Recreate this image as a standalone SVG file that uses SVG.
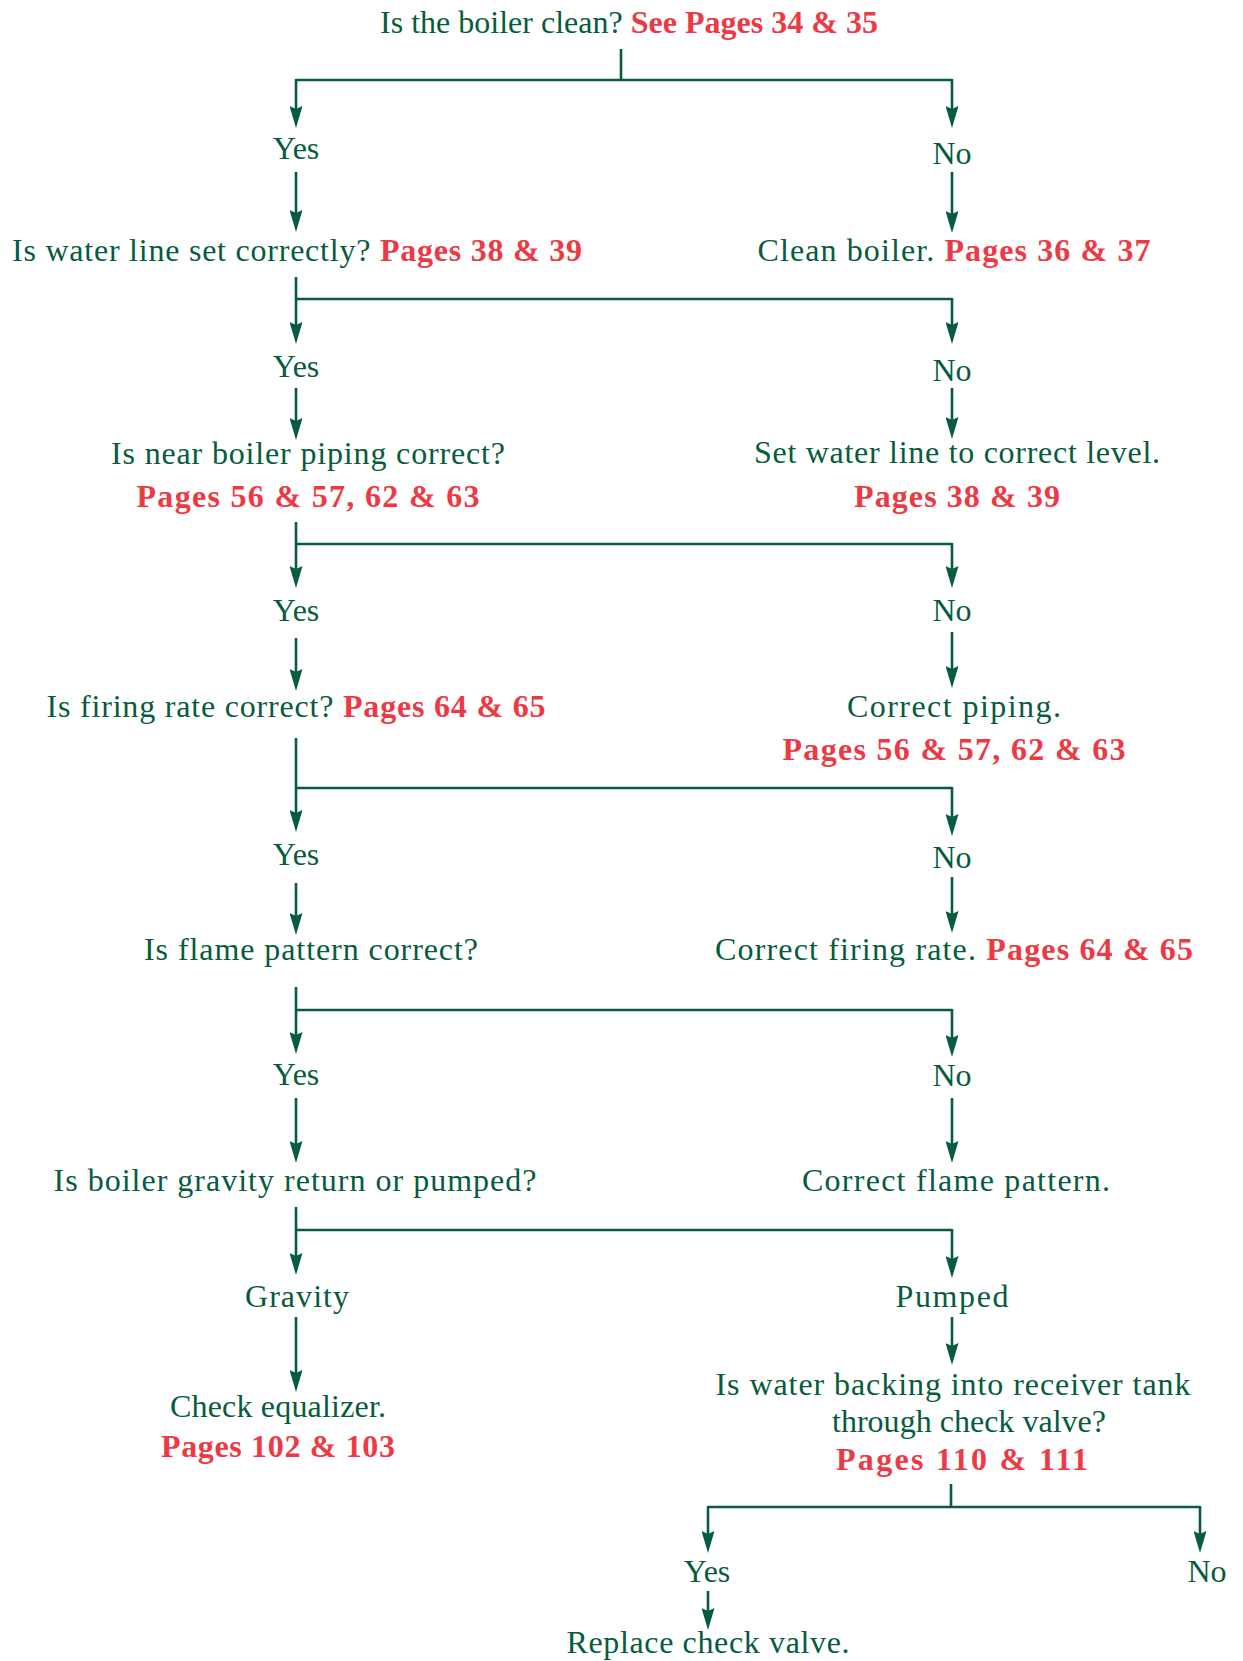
<svg xmlns="http://www.w3.org/2000/svg" width="1243" height="1661" viewBox="0 0 1243 1661">
<defs>
<style>
text{font-family:"Liberation Serif","Times New Roman",serif;font-size:32px;fill:#065c3c;text-anchor:middle}
.r{fill:#ec3a45;font-weight:bold}
.c line{stroke:#065c3c;stroke-width:2.6;fill:none}
.c line.a{marker-end:url(#ah)}
</style>
<marker id="ah" viewBox="0 0 22 13" refX="14" refY="6.5" markerWidth="22" markerHeight="13" markerUnits="userSpaceOnUse" orient="auto">
<path d="M0,0 L22,6.5 L0,13 L3,6.5 Z" fill="#065c3c"/>
</marker>
</defs>
<rect width="1243" height="1661" fill="#fff"/>
<g id="connectors" class="c">
<line x1="621" y1="49" x2="621" y2="80"/>
<line x1="296" y1="80" x2="952" y2="80"/>
<line class="a" x1="296" y1="79" x2="296" y2="120"/>
<line class="a" x1="952" y1="79" x2="952" y2="120"/>
<line class="a" x1="296" y1="172" x2="296" y2="224"/>
<line class="a" x1="952" y1="172" x2="952" y2="225"/>
<line class="a" x1="296" y1="277" x2="296" y2="336"/>
<line x1="296" y1="299" x2="952" y2="299"/>
<line class="a" x1="952" y1="298" x2="952" y2="336"/>
<line class="a" x1="296" y1="388" x2="296" y2="432"/>
<line class="a" x1="952" y1="388" x2="952" y2="431"/>
<line class="a" x1="296" y1="522" x2="296" y2="580"/>
<line x1="296" y1="544" x2="952" y2="544"/>
<line class="a" x1="952" y1="543" x2="952" y2="580"/>
<line class="a" x1="296" y1="638" x2="296" y2="683"/>
<line class="a" x1="952" y1="632" x2="952" y2="680"/>
<line class="a" x1="296" y1="738" x2="296" y2="824"/>
<line x1="296" y1="788" x2="952" y2="788"/>
<line class="a" x1="952" y1="787" x2="952" y2="828"/>
<line class="a" x1="296" y1="883" x2="296" y2="927"/>
<line class="a" x1="952" y1="877" x2="952" y2="925"/>
<line class="a" x1="296" y1="987" x2="296" y2="1046"/>
<line x1="296" y1="1010" x2="952" y2="1010"/>
<line class="a" x1="952" y1="1009" x2="952" y2="1049"/>
<line class="a" x1="296" y1="1098" x2="296" y2="1155"/>
<line class="a" x1="952" y1="1098" x2="952" y2="1155"/>
<line class="a" x1="296" y1="1207" x2="296" y2="1267"/>
<line x1="296" y1="1230" x2="952" y2="1230"/>
<line class="a" x1="952" y1="1229" x2="952" y2="1270"/>
<line class="a" x1="296" y1="1317" x2="296" y2="1384"/>
<line class="a" x1="952" y1="1317" x2="952" y2="1357"/>
<line x1="951" y1="1484" x2="951" y2="1507"/>
<line x1="708" y1="1507" x2="1200" y2="1507"/>
<line class="a" x1="708" y1="1506" x2="708" y2="1545"/>
<line class="a" x1="1200" y1="1506" x2="1200" y2="1545"/>
<line class="a" x1="708" y1="1591" x2="708" y2="1622"/>
</g>
<g id="q1"><text x="629" y="33" textLength="498">Is the boiler clean? <tspan class="r">See Pages 34 &amp; 35</tspan></text></g>
<g id="yes1"><text x="296" y="159">Yes</text></g>
<g id="no1"><text x="952" y="164">No</text></g>
<g id="q2"><text x="297" y="261" textLength="570">Is water line set correctly? <tspan class="r">Pages 38 &amp; 39</tspan></text></g>
<g id="a1"><text x="954" y="261" textLength="393">Clean boiler. <tspan class="r">Pages 36 &amp; 37</tspan></text></g>
<g id="yes2"><text x="296" y="377">Yes</text></g>
<g id="no2"><text x="952" y="381">No</text></g>
<g id="q3"><text x="308" y="464" textLength="394">Is near boiler piping correct?</text><text class="r" x="308" y="507" textLength="343">Pages 56 &amp; 57, 62 &amp; 63</text></g>
<g id="a2"><text x="957" y="463" textLength="406">Set water line to correct level.</text><text class="r" x="957" y="507" textLength="206">Pages 38 &amp; 39</text></g>
<g id="yes3"><text x="296" y="621">Yes</text></g>
<g id="no3"><text x="952" y="621">No</text></g>
<g id="q4"><text x="296" y="717" textLength="499">Is firing rate correct? <tspan class="r">Pages 64 &amp; 65</tspan></text></g>
<g id="a3"><text x="954" y="717" textLength="214">Correct piping.</text><text class="r" x="954" y="760" textLength="343">Pages 56 &amp; 57, 62 &amp; 63</text></g>
<g id="yes4"><text x="296" y="865">Yes</text></g>
<g id="no4"><text x="952" y="868">No</text></g>
<g id="q5"><text x="311" y="960" textLength="334">Is flame pattern correct?</text></g>
<g id="a4"><text x="954" y="960" textLength="478">Correct firing rate. <tspan class="r">Pages 64 &amp; 65</tspan></text></g>
<g id="yes5"><text x="296" y="1085">Yes</text></g>
<g id="no5"><text x="952" y="1086">No</text></g>
<g id="q6"><text x="295" y="1191" textLength="483">Is boiler gravity return or pumped?</text></g>
<g id="a5"><text x="956" y="1191" textLength="308">Correct flame pattern.</text></g>
<g id="gravity"><text x="297" y="1307" textLength="104">Gravity</text></g>
<g id="pumped"><text x="952" y="1307" textLength="113">Pumped</text></g>
<g id="a6"><text x="278" y="1417" textLength="216">Check equalizer.</text><text class="r" x="278" y="1457" textLength="234">Pages 102 &amp; 103</text></g>
<g id="q7"><text x="953" y="1395" textLength="475">Is water backing into receiver tank</text><text x="969" y="1432" textLength="274">through check valve?</text><text class="r" x="962" y="1470" textLength="252">Pages 110 &amp; 111</text></g>
<g id="yes7"><text x="707" y="1582">Yes</text></g>
<g id="no7"><text x="1207" y="1582">No</text></g>
<g id="a7"><text x="708" y="1653" textLength="283">Replace check valve.</text></g>
</svg>
